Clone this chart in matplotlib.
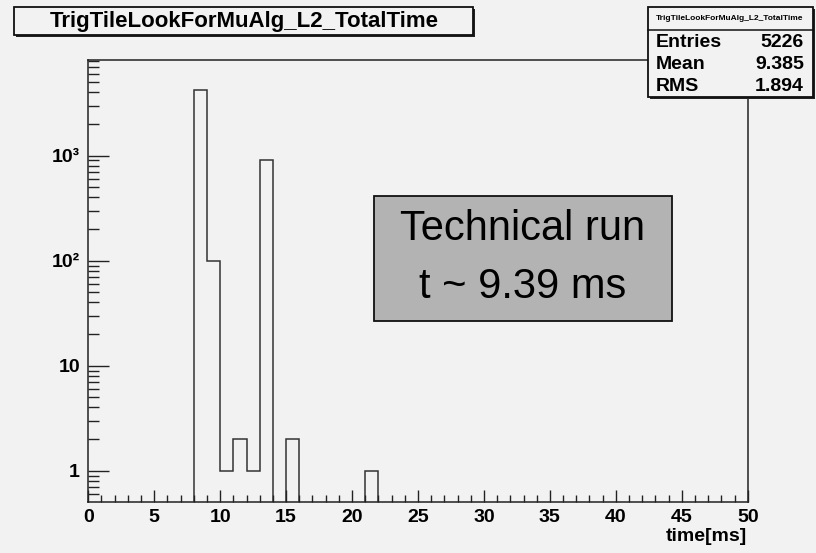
import matplotlib
matplotlib.use("Agg")
import matplotlib.pyplot as plt
from matplotlib.patches import Rectangle
from matplotlib.lines import Line2D
import numpy as np

# --- data ------------------------------------------------------------------
bin_low = [8, 9, 10, 11, 12, 13, 15, 21]          # lower edge of filled bins [ms]
bin_counts = [4200, 100, 1, 2, 1, 919, 2, 1]      # entries per bin
x_ticks = [0, 5, 10, 15, 20, 25, 30, 35, 40, 45, 50]
y_ticks = [1, 10, 100, 1000]
y_tick_labels = ["1", "10", "10\u00b2", "10\u00b3"]
stat_names = ["Entries", "Mean", "RMS"]
stat_values = ["5226", "9.385", "1.894"]

hist_name = "TrigTileLookForMuAlg_L2_TotalTime"
note_lines = ["Technical run", "t ~ 9.39 ms"]

W, H = 816, 553
BG = "#f2f2f2"
FONT = "Liberation Sans"


def fx(x):
    return x / W


def fy(y):
    return 1 - y / H


def root_box(fig, x0, y0, x1, y1, face, lw=1.3, shadow=True):
    """Box in pixel coords with a ROOT-like drop shadow."""
    if shadow:
        fig.add_artist(Rectangle((fx(x0 + 2), fy(y1 + 2)), fx(x1 - x0), (y1 - y0) / H,
                                 transform=fig.transFigure, facecolor="#222222",
                                 edgecolor="none", zorder=3))
    fig.add_artist(Rectangle((fx(x0), fy(y1)), fx(x1 - x0), (y1 - y0) / H,
                             transform=fig.transFigure, facecolor=face,
                             edgecolor="#111111", linewidth=lw, zorder=4))


edges = np.arange(0, 51)
counts = np.zeros(50)
for lo, c in zip(bin_low, bin_counts):
    counts[lo] = c
plot_vals = np.where(counts > 0, counts, 1e-3)

fig = plt.figure(figsize=(W / 100, H / 100), dpi=100, facecolor=BG)
ax = fig.add_axes([fx(88.3), fy(501.7), fx(747.7 - 88.3), (501.7 - 60) / H])
ax.set_facecolor(BG)

ax.stairs(plot_vals, edges, baseline=1e-3, color="#333333", linewidth=1.1)

ax.set_yscale("log")
ax.set_xlim(0, 50)
ax.set_ylim(0.507, 8150)

for s in ax.spines.values():
    s.set_color("#222222")
    s.set_linewidth(1.1)

ax.set_xticks(x_ticks)
ax.set_xticks(np.arange(0, 51), minor=True)
ax.set_xticklabels([str(t) for t in x_ticks], fontfamily=FONT,
                   fontweight="bold", fontsize=14)
ax.set_yticks(y_ticks)
ax.set_yticklabels(y_tick_labels, fontfamily=FONT, fontweight="bold", fontsize=14)
ax.yaxis.set_minor_locator(matplotlib.ticker.LogLocator(base=10, subs=np.arange(2, 10)))
ax.yaxis.set_minor_formatter(matplotlib.ticker.NullFormatter())

ax.tick_params(axis="y", which="major", direction="in", length=15, width=1, pad=6,
               color="#222222", right=False)
ax.tick_params(axis="y", which="minor", direction="in", length=8, width=1,
               color="#222222", right=False)
ax.tick_params(axis="x", which="major", direction="in", length=8.6, width=1, pad=5,
               color="#222222", top=False)
ax.tick_params(axis="x", which="minor", direction="in", length=5, width=1,
               color="#222222", top=False)

fig.text(fx(746.7), fy(536.7), "time[ms]", ha="right", va="center",
         fontfamily=FONT, fontweight="bold", fontsize=14)

# title box
root_box(fig, 14, 7, 473, 35, BG)
fig.text(fx(244), fy(21), hist_name, ha="center", va="center",
         fontfamily=FONT, fontweight="bold", fontsize=16, zorder=5)

# statistics box
root_box(fig, 648, 7, 813, 96.7, BG)
fig.add_artist(Line2D([fx(648), fx(813)], [fy(30), fy(30)], transform=fig.transFigure,
                      color="#111111", linewidth=1.1, zorder=5))
fig.text(fx(730), fy(18.5), hist_name, ha="center", va="center",
         fontfamily=FONT, fontweight="bold", fontsize=6, zorder=5)
for i, (name, val) in enumerate(zip(stat_names, stat_values)):
    yc = 42.7 + i * 21.7
    fig.text(fx(656), fy(yc), name, ha="left", va="center",
             fontfamily=FONT, fontweight="bold", fontsize=14, zorder=5)
    fig.text(fx(804), fy(yc), val, ha="right", va="center",
             fontfamily=FONT, fontweight="bold", fontsize=14, zorder=5)

# annotation box
root_box(fig, 374, 196, 672, 321, "#b3b3b3", shadow=False)
for i, line in enumerate(note_lines):
    fig.text(fx(523), fy(229 + i * 58), line, ha="center", va="center",
             fontfamily=FONT, fontsize=30, zorder=5)

fig.savefig("out.png", dpi=100, facecolor=BG)
